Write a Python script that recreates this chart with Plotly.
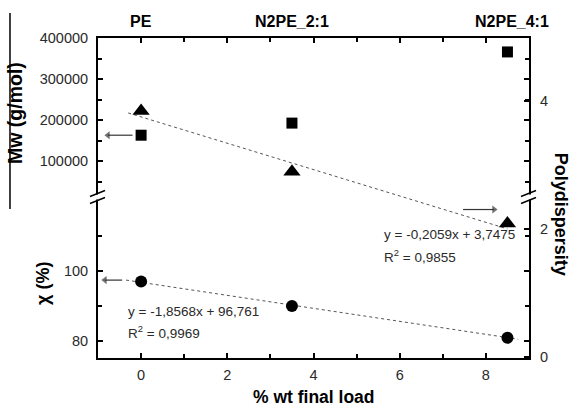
import plotly.graph_objects as go

# ---- data ----
load_x = [0, 3.5, 8.5]                  # % wt final load
mw_vals = [163000, 192500, 366000]      # Mw (g/mol), squares
poly_vals = [3.84, 2.89, 2.08]          # polydispersity, triangles
chi_vals = [97.0, 90.0, 80.9]           # crystallinity χ (%), circles

poly_fit_x = [-0.3, 8.5]
poly_fit_y = [3.809, 1.997]
chi_fit_x = [-0.35, 8.75]
chi_fit_y = [97.41, 80.51]

sample_names = ["PE", "N2PE_2:1", "N2PE_4:1"]
sample_x = [0, 3.5, 8.6]

poly_eq = ["y = -0,2059x + 3,7475", "R<sup>2</sup> = 0,9855"]
chi_eq = ["y = -1,8568x + 96,761", "R<sup>2</sup> = 0,9969"]

mw_ticks = [100000, 200000, 300000, 400000]
chi_ticks = [80, 100]
poly_ticks = [0, 2, 4]
x_ticks = [0, 2, 4, 6, 8]

# pointer arrows: (tail x, head x, y level, y axis)
arrows = [
    ([-0.2, -0.77], 163000, "y", "triangle-left"),
    ([-0.44, -0.84], 97.4, "y2", "triangle-left"),
    ([7.47, 8.19], 2.3, "y3", "triangle-right"),
]

FONT = "Arial, 'Liberation Sans', sans-serif"
TXT = "#2a2a2a"
BREAK = 0.503

fig = go.Figure()

fig.add_trace(go.Scatter(x=load_x, y=mw_vals, mode="markers", xaxis="x", yaxis="y",
                         marker=dict(symbol="square", size=11, color="black"), showlegend=False))
fig.add_trace(go.Scatter(x=chi_fit_x, y=chi_fit_y, mode="lines", xaxis="x", yaxis="y2",
                         line=dict(color="#555", width=1, dash="dot"), showlegend=False))
fig.add_trace(go.Scatter(x=load_x, y=chi_vals, mode="markers", xaxis="x", yaxis="y2",
                         marker=dict(symbol="circle", size=12, color="black"), showlegend=False))
fig.add_trace(go.Scatter(x=poly_fit_x, y=poly_fit_y, mode="lines", xaxis="x", yaxis="y3",
                         line=dict(color="#555", width=1, dash="dot"), showlegend=False))
fig.add_trace(go.Scatter(x=load_x, y=poly_vals, mode="markers", xaxis="x", yaxis="y3",
                         marker=dict(symbol="triangle-up", size=15, color="black"), showlegend=False))
for ax_x, ay, yax, sym in arrows:
    fig.add_trace(go.Scatter(x=ax_x, y=[ay, ay], mode="lines+markers", xaxis="x", yaxis=yax,
                             line=dict(color="#333", width=1.2),
                             marker=dict(symbol=["circle", sym], size=[0, 7], color="#333",
                                         line=dict(width=0)),
                             showlegend=False, hoverinfo="skip"))
# invisible trace to hold the top mirror axis
fig.add_trace(go.Scatter(x=[0], y=[200000], mode="markers", marker=dict(opacity=0),
                         xaxis="x2", yaxis="y", showlegend=False, hoverinfo="skip"))

tickfont = dict(family=FONT, size=14.5, color=TXT)
common = dict(showline=True, linecolor="black", linewidth=2, ticks="inside",
              ticklen=5, tickwidth=1.5, tickcolor="black", showgrid=False,
              zeroline=False, tickfont=tickfont)
minor_style = dict(ticks="inside", ticklen=4, tickcolor="black", tickwidth=1.5)

fig.update_layout(
    width=570, height=407,
    margin=dict(l=98, r=41, t=38, b=49),
    paper_bgcolor="white", plot_bgcolor="rgba(0,0,0,0)",
    font=dict(family=FONT, color=TXT),
    xaxis=dict(range=[-1, 9], anchor="y2", tickvals=x_ticks,
               minor=dict(dtick=1, tick0=0, **minor_style),
               ticklabelstandoff=3, **common),
    xaxis2=dict(range=[-1, 9], overlaying="x", side="top", anchor="y", tickvals=x_ticks,
                showticklabels=False, minor=dict(dtick=1, tick0=0, **minor_style),
                **common),
    yaxis=dict(domain=[BREAK, 1], range=[12200, 400000], anchor="x", tickvals=mw_ticks,
               tickformat="d", mirror="ticks", ticklabelstandoff=5,
               minor=dict(dtick=50000, tick0=0, **minor_style), **common),
    yaxis2=dict(domain=[0, BREAK], range=[75.14, 121.14], anchor="x", tickvals=chi_ticks,
                mirror="ticks", ticklabelstandoff=5,
                minor=dict(tickvals=[90, 110], **minor_style), **common),
    yaxis3=dict(domain=[0, 1], range=[-0.02, 4.98], anchor="x", side="right",
                tickvals=poly_ticks, ticklabelstandoff=6, **common),
)

ann = []
for name, sx in zip(sample_names, sample_x):
    ann.append(dict(x=sx, y=1.05, xref="x", yref="paper", text=f"<b>{name}</b>",
                    showarrow=False, font=dict(family=FONT, size=16, color="black"),
                    xanchor="center", yanchor="middle"))
ann.append(dict(x=-0.193, y=0.765, xref="paper", yref="paper", text="<b>Mw (g/mol)</b>",
                textangle=-90, showarrow=False, font=dict(family=FONT, size=19.5, color="black"),
                xanchor="center", yanchor="middle"))
ann.append(dict(x=-0.128, y=0.234, xref="paper", yref="paper", text="<b>χ (%)</b>",
                textangle=-90, showarrow=False, font=dict(family=FONT, size=18, color="black"),
                xanchor="center", yanchor="middle"))
ann.append(dict(x=1.075, y=0.45, xref="paper", yref="paper", text="<b>Polydispersity</b>",
                textangle=90, showarrow=False, font=dict(family=FONT, size=18, color="black"),
                xanchor="center", yanchor="middle"))
ann.append(dict(x=0.5, y=-0.122, xref="paper", yref="paper", text="<b>% wt final load</b>",
                showarrow=False, font=dict(family=FONT, size=17.5, color="black"),
                xanchor="center", yanchor="middle"))
eqfont = dict(family=FONT, size=13.5, color=TXT)
ann.append(dict(x=5.58, y=1.91, xref="x", yref="y3", text=poly_eq[0], showarrow=False,
                xanchor="left", yanchor="middle", font=eqfont))
ann.append(dict(x=5.58, y=1.58, xref="x", yref="y3", text=poly_eq[1], showarrow=False,
                xanchor="left", yanchor="middle", font=eqfont))
ann.append(dict(x=-0.35, y=88.3, xref="x", yref="y2", text=chi_eq[0], showarrow=False,
                xanchor="left", yanchor="middle", font=eqfont))
ann.append(dict(x=-0.35, y=82.6, xref="x", yref="y2", text=chi_eq[1], showarrow=False,
                xanchor="left", yanchor="middle", font=eqfont))
fig.update_layout(annotations=ann)

shapes = []
for xa in [0, 1]:
    shapes.append(dict(type="rect", xref="paper", yref="paper", xsizemode="pixel", ysizemode="pixel",
                       xanchor=xa, yanchor=BREAK, x0=-3, x1=3, y0=-2.5, y1=2.5,
                       fillcolor="white", line=dict(width=0), layer="above"))
    for dy in [-3.5, 3.5]:
        shapes.append(dict(type="line", xref="paper", yref="paper", xsizemode="pixel", ysizemode="pixel",
                           xanchor=xa, yanchor=BREAK, x0=-8, x1=7, y0=dy - 3, y1=dy + 3,
                           line=dict(color="black", width=1.5), layer="above"))
shapes.append(dict(type="line", xref="paper", yref="paper", x0=-0.2042, x1=-0.2042, y0=0.4656, y1=1.078,
                   line=dict(color="black", width=1.5), layer="above"))
fig.update_layout(shapes=shapes)

fig.write_html("out.html")
